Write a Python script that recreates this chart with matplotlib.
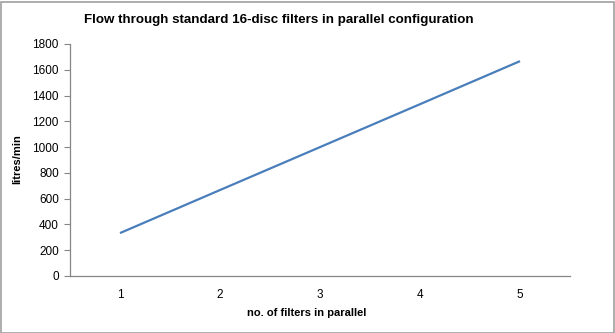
import matplotlib.pyplot as plt
from matplotlib.patches import Rectangle

plt.rcParams['font.family'] = ['Liberation Sans', 'DejaVu Sans']

filters = [1, 2, 3, 4, 5]
flow = [333, 667, 1000, 1333, 1667]
yticks = [0, 200, 400, 600, 800, 1000, 1200, 1400, 1600, 1800]

fig = plt.figure(figsize=(6.15, 3.33), dpi=100)
W, H = 615, 333
ax = fig.add_axes([70 / W, 1 - 276 / H, 500 / W, 232 / H])

ax.plot(filters, flow, color='#4a7ebb', linewidth=1.6, solid_capstyle='butt')

ax.set_xlim(0.5, 5.5)
ax.set_ylim(0, 1800)
ax.set_xticks(filters)
ax.set_yticks(yticks)
ax.tick_params(axis='x', length=0, pad=9, labelsize=8.5, colors='#000000')
ax.tick_params(axis='y', length=4, width=0.8, color='#868686', pad=4, labelsize=8.5)

for side in ['top', 'right']:
    ax.spines[side].set_visible(False)
for side in ['left', 'bottom']:
    ax.spines[side].set_color('#868686')
    ax.spines[side].set_linewidth(0.9)

fig.text(279 / W, 1 - 20 / H, 'Flow through standard 16-disc filters in parallel configuration',
         ha='center', va='center', fontsize=9.6, fontweight='bold')
fig.text(307 / W, 1 - 313 / H, 'no. of filters in parallel',
         ha='center', va='center', fontsize=8, fontweight='bold')
fig.text(17 / W, 1 - 159 / H, 'litres/min', rotation=90,
         ha='center', va='center', fontsize=8, fontweight='bold')

# outer chart border
fig.patches.append(Rectangle((0.5 / W, 0.5 / H), 1 - 2 / W, 1 - 2 / H,
                             transform=fig.transFigure, fill=False,
                             edgecolor='#a0a0a0', linewidth=1.2))

fig.savefig('out.png', dpi=100)
